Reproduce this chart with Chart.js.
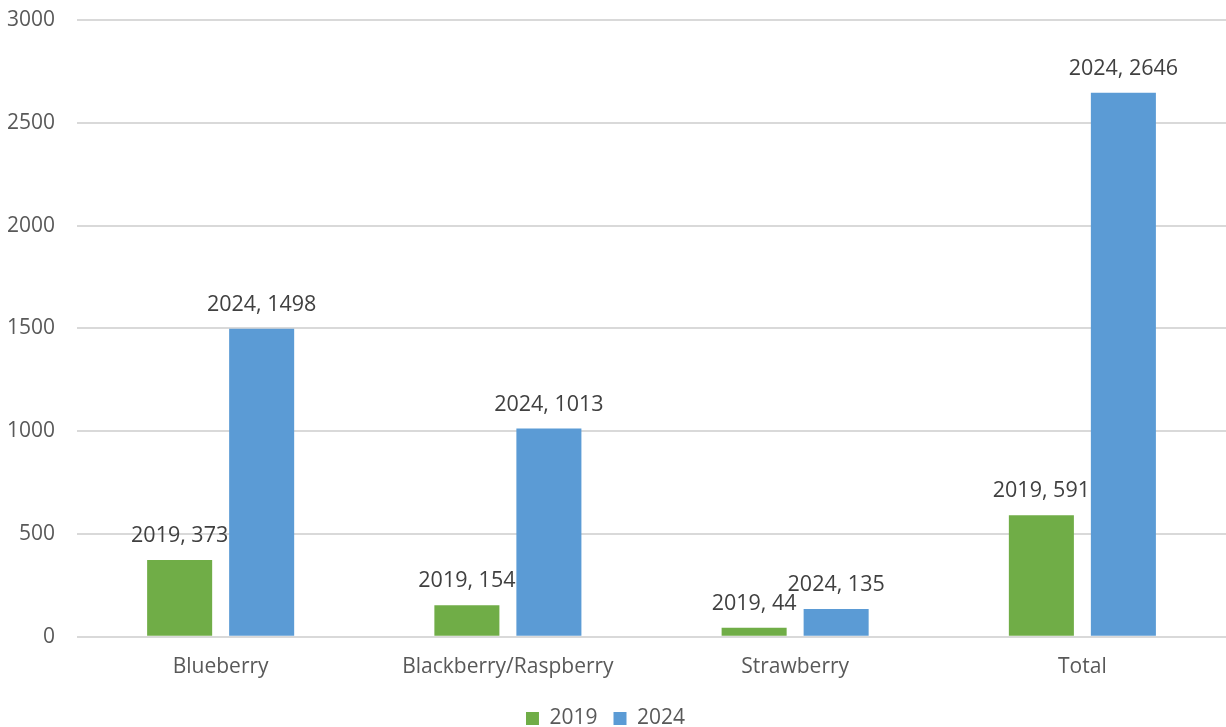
<!DOCTYPE html>
<html>
<head>
<meta charset="utf-8">
<script src="https://cdn.jsdelivr.net/npm/chart.js@4"></script>
<style>
  html, body { margin: 0; padding: 0; background: #fff; }
  #wrap { width: 1226px; height: 727px; }
</style>
</head>
<body>
<div id="wrap"><canvas id="berryChart"></canvas></div>
<script>
const categories = ["Blueberry", "Blackberry/Raspberry", "Strawberry", "Total"];
const seriesNames = ["2019", "2024"];
const values2019 = [373, 154, 44, 591];
const values2024 = [1498, 1013, 135, 2646];
const yTicks = [0, 500, 1000, 1500, 2000, 2500, 3000];

const FONT = "'Open Sans', sans-serif";

// draws "2019, 373" style labels above each bar
const barLabels = {
    id: "barLabels",
    afterDatasetsDraw(chart) {
        const ctx = chart.ctx;
        ctx.save();
        ctx.font = "21.5px " + FONT;
        ctx.fillStyle = "#404040";
        ctx.textAlign = "center";
        ctx.textBaseline = "middle";
        chart.data.datasets.forEach((ds, i) => {
            chart.getDatasetMeta(i).data.forEach((bar, j) => {
                ctx.fillText(ds.label + ", " + ds.data[j], bar.x, bar.y - 24);
            });
        });
        ctx.restore();
    }
};

const ctx = document.getElementById("berryChart").getContext("2d");
new Chart(ctx, {
    type: "bar",
    data: {
        labels: categories,
        datasets: [
            { label: seriesNames[0], data: values2019, backgroundColor: "#70ad47" },
            { label: seriesNames[1], data: values2024, backgroundColor: "#5b9bd5" }
        ]
    },
    options: {
        responsive: true,
        maintainAspectRatio: false,
        animation: false,
        categoryPercentage: 0.571,
        barPercentage: 0.793,
        layout: { padding: { top: 20, right: 0, left: -15, bottom: -12 } },
        plugins: {
            legend: {
                position: "bottom",
                labels: {
                    boxWidth: 13,
                    boxHeight: 13,
                    padding: 16,
                    color: "#595959",
                    font: { family: FONT, size: 21 }
                }
            },
            tooltip: { enabled: false }
        },
        scales: {
            x: {
                grid: { display: false, drawTicks: false },
                border: { display: false },
                ticks: { color: "#595959", padding: 18, font: { family: FONT, size: 21 } },
                afterFit: (scale) => {
                    scale.height -= 6;
                    scale.paddingLeft = 0;
                    scale.paddingRight = 0;
                }
            },
            y: {
                min: 0,
                max: 3000,
                afterBuildTicks: (axis) => { axis.ticks = yTicks.map(v => ({ value: v })); },
                afterFit: (scale) => {
                    scale.paddingTop = 0;
                    scale.paddingBottom = 0;
                },
                grid: { color: "#d9d9d9", lineWidth: 2, drawTicks: false },
                border: { display: false },
                ticks: {
                    color: "#595959",
                    padding: 22,
                    font: { family: FONT, size: 21 },
                    callback: (v) => String(v)
                }
            }
        }
    },
    plugins: [barLabels]
});
</script>
</body>
</html>
